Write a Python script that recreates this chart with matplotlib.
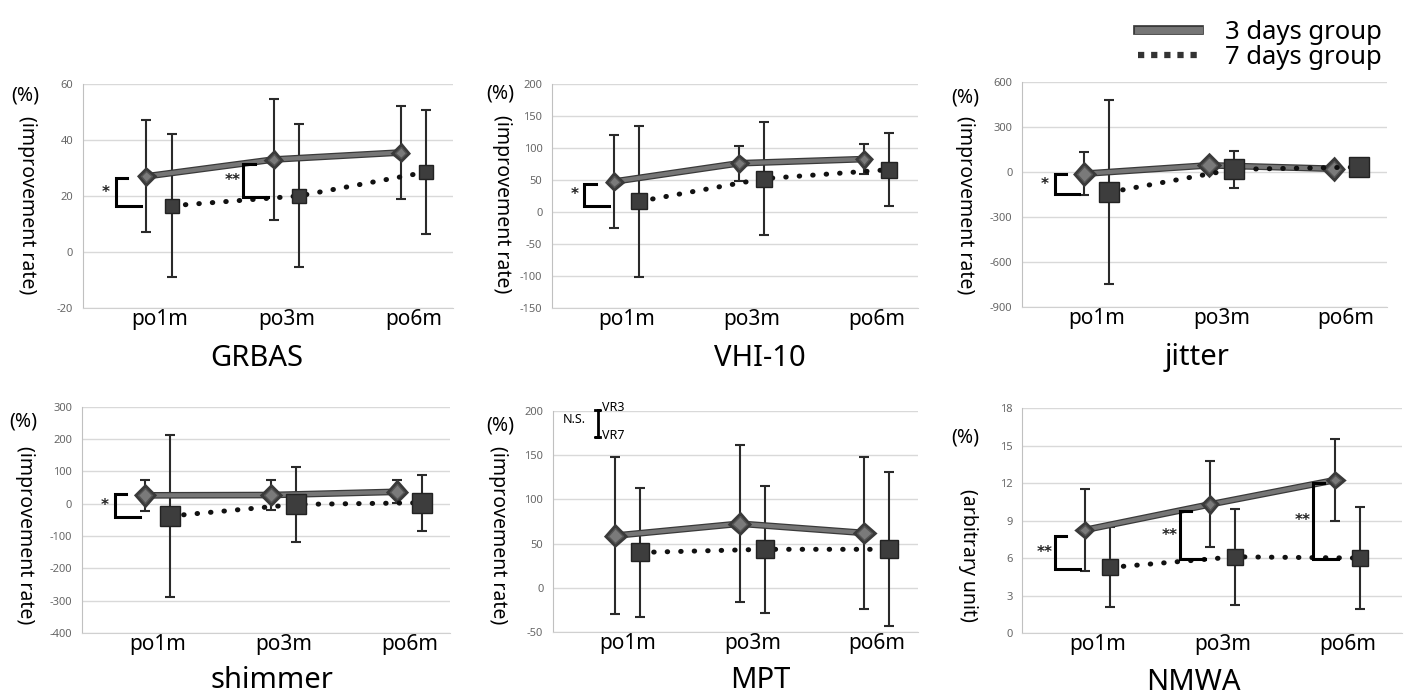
import matplotlib
matplotlib.use('Agg')
import matplotlib.pyplot as plt
import matplotlib.patheffects as pe
from matplotlib.lines import Line2D
import numpy as np

plt.rcParams['font.family'] = ['Noto Sans', 'DejaVu Sans']
plt.rcParams['axes.unicode_minus'] = False

periods = ['po1m', 'po3m', 'po6m']

# mean / SD, 3 days group and 7 days group
grbas_3d = [27, 33, 35.5]
grbas_3d_sd = [20, 21.5, 16.5]
grbas_7d = [16.5, 20, 28.5]
grbas_7d_sd = [25.5, 25.5, 22]

vhi_3d = [47.5, 76, 82.5]
vhi_3d_sd = [72, 27, 24]
vhi_7d = [16.5, 52, 66]
vhi_7d_sd = [118, 88, 57]

jitter_3d = [-11, 45, 22]
jitter_3d_sd = [145, 20, 10]
jitter_7d = [-135, 18, 33]
jitter_7d_sd = [615, 125, 20]

shimmer_3d = [26, 27, 37]
shimmer_3d_sd = [47, 47, 36]
shimmer_7d = [-38, -2, 3]
shimmer_7d_sd = [250, 116, 86]

mpt_3d = [59, 72.5, 62]
mpt_3d_sd = [89, 89, 86]
mpt_7d = [40, 43.5, 43.5]
mpt_7d_sd = [73, 72, 87]

nmwa_3d = [8.25, 10.3, 12.25]
nmwa_3d_sd = [3.3, 3.45, 3.3]
nmwa_7d = [5.25, 6.1, 6.0]
nmwa_7d_sd = [3.2, 3.85, 4.1]

# significance brackets: (category index, top y, bottom y, label)
grbas_sig = [(0, 26.5, 16.3, '*'), (1, 31.5, 19.6, '**')]
vhi_sig = [(0, 44, 10, '*')]
jitter_sig = [(0, -16, -144, '*')]
shimmer_sig = [(0, 30, -40, '*')]
mpt_sig = []
nmwa_sig = [(0, 7.73, 5.12, '**'), (1, 9.73, 5.92, '**'), (2, 12.05, 5.92, '**')]

panels = [
    # name, 3d, sd, 7d, sd, ylim, step, sig, rect (l, b, w, h), xmax, ms
    ('GRBAS', grbas_3d, grbas_3d_sd, grbas_7d, grbas_7d_sd, (-20, 60), 20, grbas_sig,
     [0.059, 0.5575, 0.263, 0.322], 2.31, (5.5, 10)),
    ('VHI-10', vhi_3d, vhi_3d_sd, vhi_7d, vhi_7d_sd, (-150, 200), 50, vhi_sig,
     [0.3926, 0.5575, 0.260, 0.322], 2.33, (5.5, 11)),
    ('jitter', jitter_3d, jitter_3d_sd, jitter_7d, jitter_7d_sd, (-900, 600), 300, jitter_sig,
     [0.727, 0.559, 0.2596, 0.323], 2.33, (8, 14)),
    ('shimmer', shimmer_3d, shimmer_3d_sd, shimmer_7d, shimmer_7d_sd, (-400, 300), 100, shimmer_sig,
     [0.0583, 0.0905, 0.2617, 0.325], 2.32, (7.5, 14)),
    ('MPT', mpt_3d, mpt_3d_sd, mpt_7d, mpt_7d_sd, (-50, 200), 50, mpt_sig,
     [0.3933, 0.092, 0.2596, 0.3175], 2.33, (7.5, 13)),
    ('NMWA', nmwa_3d, nmwa_3d_sd, nmwa_7d, nmwa_7d_sd, (0, 18), 3, nmwa_sig,
     [0.727, 0.0905, 0.270, 0.323], 2.43, (5.5, 11)),
]

fig = plt.figure(figsize=(14.06, 6.96), dpi=100)
x = np.arange(len(periods))

line_gray = '#767676'
edge_dark = '#3a3a3a'
sq_fill = '#3d3d3d'

for name, d3, s3, d7, s7, ylim, step, sig, rect, xmax, ms in panels:
    ax = fig.add_axes(rect)
    ax.set_xlim(-0.6, xmax)
    ax.set_ylim(*ylim)
    ax.set_yticks(np.arange(ylim[0], ylim[1] + step / 2, step))
    ax.set_xticks(x)
    ax.set_xticklabels(periods, fontsize=15)
    ax.tick_params(axis='x', length=0, pad=1)
    ax.tick_params(axis='y', length=0, labelsize=8, labelcolor='#666666', pad=7)
    ax.grid(axis='y', color='#d9d9d9', lw=1)
    ax.set_axisbelow(True)
    for s in ['top', 'right']:
        ax.spines[s].set_visible(False)
    ax.spines['left'].set_color('#c0c0c0')
    ax.spines['bottom'].set_color('#d0d0d0')

    # 3 days group
    ax.errorbar(x - 0.1, d3, yerr=s3, fmt='none', ecolor='#2a2a2a', elinewidth=1.5,
                capsize=3.5, capthick=1.5, zorder=3)
    ln, = ax.plot(x - 0.1, d3, color=line_gray, lw=3, marker='D', ms=ms[0],
                  mfc='#7a7a7a', mec='#555555', mew=1, zorder=4)
    ln.set_path_effects([pe.Stroke(linewidth=4.8, foreground=edge_dark), pe.Normal()])

    # 7 days group
    ax.errorbar(x + 0.1, d7, yerr=s7, fmt='none', ecolor='#2a2a2a', elinewidth=1.5,
                capsize=3.5, capthick=1.5, zorder=3)
    ax.plot(x + 0.1, d7, color='#111111', lw=3.6, ls=(0, (0.1, 2.6)),
            dash_capstyle='round', zorder=4)
    ax.plot(x + 0.1, d7, ls='none', marker='s', ms=ms[1], mfc=sq_fill, mec='#222222',
            mew=1, zorder=5)

    # significance brackets
    for i, ytop, ybot, lab in sig:
        xv = i - 0.34 if i < 2 else i - 0.28
        ax.plot([xv + 0.09, xv, xv, xv + 0.2], [ytop, ytop, ybot, ybot], color='black',
                lw=2.2, solid_joinstyle='miter', zorder=6, clip_on=False)
        ax.text(xv - 0.08, (ytop + ybot) / 2, lab, ha='center', va='center',
                fontsize=11, fontweight='bold', color='#222222', zorder=6,
                family='DejaVu Sans')

    if name == 'MPT':
        ax.text(-0.43, 190, 'N.S.', fontsize=9, fontweight='bold', ha='center', va='center')
        ax.plot([-0.26, -0.22, -0.24, -0.24, -0.26, -0.22], [201, 201, 201, 171, 171, 171],
                color='black', lw=2, clip_on=False)
        ax.text(-0.205, 204, 'VR3', fontsize=9, fontweight='bold', ha='left', va='center')
        ax.text(-0.205, 172, 'VR7', fontsize=9, fontweight='bold', ha='left', va='center')

# y labels
def ylab(px, py, rx, ry, txt):
    fig.text(px / 1406, 1 - py / 696, '(%)', fontsize=14, ha='center', va='center')
    fig.text(rx / 1406, 1 - ry / 696, txt, fontsize=14, ha='center', va='center',
             rotation=270)

ylab(25, 95, 27, 205, '(improvement rate)')
ylab(500, 93, 502, 204, '(improvement rate)')
ylab(965, 97, 965, 205, '(improvement rate)')
ylab(23, 422, 25, 535, '(improvement rate)')
ylab(500, 425, 498, 535, '(improvement rate)')
ylab(965, 438, 968, 555, '(arbitrary unit)')

# panel titles
titles = [('GRBAS', 257, 358), ('VHI-10', 760, 358), ('jitter', 1197, 358),
          ('shimmer', 272, 680), ('MPT', 760, 680), ('NMWA', 1193, 682)]
for t, tx, ty in titles:
    fig.text(tx / 1406, 1 - ty / 696, t, fontsize=21, ha='center', va='center')

# legend
h3 = Line2D([], [], color=line_gray, lw=5,
            path_effects=[pe.Stroke(linewidth=7, foreground=edge_dark), pe.Normal()])
h7 = Line2D([], [], color='#333333', lw=4.5, ls=(0, (1, 1.1)), dash_capstyle='butt')
fig.legend([h3, h7], ['3 days group', '7 days group'], loc='upper right',
           bbox_to_anchor=(0.992, 0.99), frameon=False, fontsize=18.5, handlelength=2.4,
           labelspacing=0.0, borderpad=0, handletextpad=1.0)

fig.savefig('out.png', dpi=100)
